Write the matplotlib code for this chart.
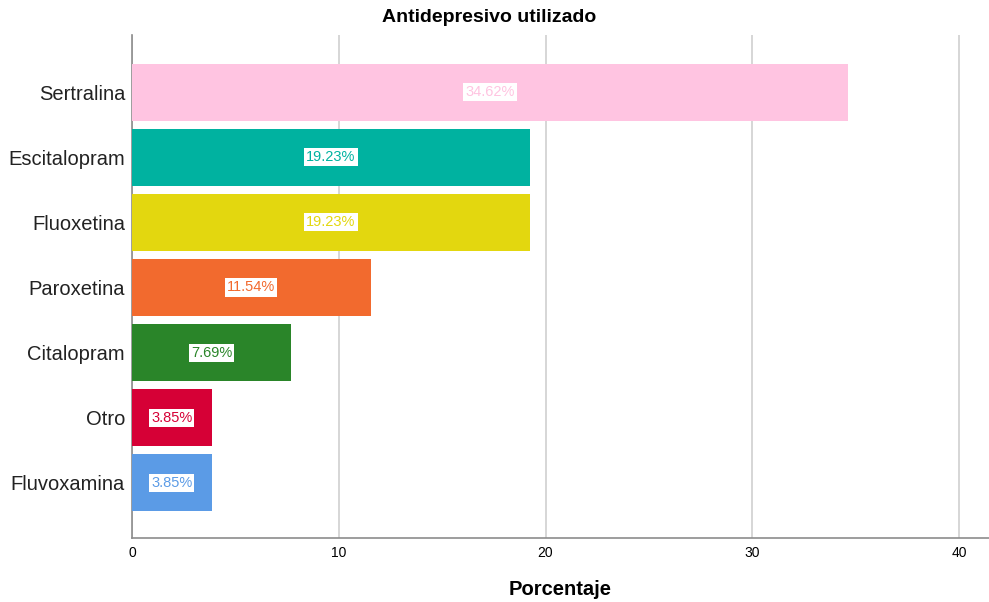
import numpy as np
import matplotlib.pyplot as plt

farmacos = ['Sertralina', 'Escitalopram', 'Fluoxetina', 'Paroxetina',
            'Citalopram', 'Otro', 'Fluvoxamina']
porcentaje = [34.62, 19.23, 19.23, 11.54, 7.69, 3.85, 3.85]
colores = ['#FFC4E1', '#00B2A0', '#E3D70F', '#F26A2E', '#2A8529', '#D60036', '#5B9BE6']
ticks_x = [0, 10, 20, 30, 40]

plt.rcParams['font.family'] = ['Liberation Sans', 'DejaVu Sans']

fig = plt.figure(figsize=(9.89, 6.02), dpi=100)
ax = fig.add_axes([0.1335, 0.1063, 0.8665, 0.8356])

y = np.arange(len(farmacos))[::-1]
ax.barh(y, porcentaje, height=0.88, color=colores, zorder=3)

for yi, v, c in zip(y, porcentaje, colores):
    ax.text(v / 2, yi, f'{v:.2f}%', color=c, fontsize=10.5, ha='center', va='center',
            zorder=4, bbox=dict(facecolor='white', edgecolor='none', pad=1.5))

ax.set_xlim(0, 41.45)
ax.set_ylim(-0.85, 6.88)
ax.set_xticks(ticks_x)
ax.set_yticks(y)
ax.set_yticklabels(farmacos, fontsize=14.5, color='#222222')
ax.tick_params(axis='x', labelsize=10, length=0, pad=6)
ax.tick_params(axis='y', length=0, pad=5)
ax.xaxis.grid(True, color='#CFCFCF', lw=1.2, zorder=0)

for s in ['top', 'right']:
    ax.spines[s].set_visible(False)
for s in ['left', 'bottom']:
    ax.spines[s].set_color('#8C8C8C')
    ax.spines[s].set_linewidth(1.2)

fig.text(0.495, 0.971, 'Antidepresivo utilizado', fontsize=14, fontweight='bold',
         ha='center', va='center')
ax.set_xlabel('Porcentaje', fontsize=14.5, fontweight='bold', labelpad=14)

fig.savefig('out.png', dpi=100)
